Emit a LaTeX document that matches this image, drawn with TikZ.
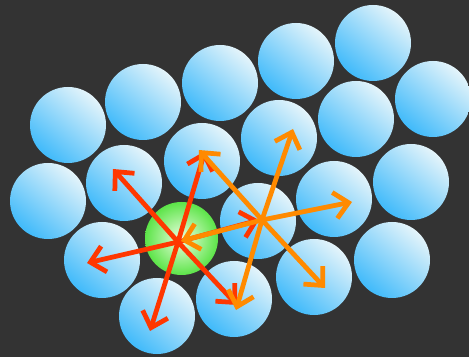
\documentclass[tikz,border=0pt]{standalone}
\usepackage{tikz}
\usetikzlibrary{arrows.meta}
\definecolor{bgdark}{RGB}{51,51,51}
\definecolor{balllight}{RGB}{228,244,250}
\definecolor{ballmid}{RGB}{198,233,250}
\definecolor{balldark}{RGB}{64,186,250}
\definecolor{greenlight}{RGB}{236,255,226}
\definecolor{greendark}{RGB}{92,228,72}
\definecolor{redarr}{RGB}{255,55,0}
\definecolor{orangearr}{RGB}{255,138,0}
\tikzset{
    % blue lattice balls
    ball/.style={
        top color=balllight,
        middle color=ballmid,
        bottom color=balldark,
        shading angle=-40
    },
    greenball/.style={
        inner color=greenlight,
        outer color=greendark
    },
    redarrow/.style={
        line width=2.7pt,
        redarr,
        line cap=round,
        -{Straight Barb[length=8pt, width=15pt]}
    },
    orangearrow/.style={
        line width=2.7pt,
        orangearr,
        line cap=round,
        -{Straight Barb[length=8pt, width=15pt]}
    }
}
\begin{document}
\begin{tikzpicture}[x=0.02cm,y=-0.02cm]
    % ===================== background =====================
    \fill[bgdark] (0,0) rectangle (469,357);
    \useasboundingbox (0,0) rectangle (469,357);

    % ===================== balls =====================
    \path
    (68,125) coordinate (b1)
    (143,102) coordinate (b2)
    (220,83) coordinate (b3)
    (296,61) coordinate (b4)
    (373,43) coordinate (b5)

    (48,201) coordinate (b6)
    (124,183) coordinate (b7)
    (202,161) coordinate (b8)
    (279,138) coordinate (b9)
    (356,119) coordinate (b10)
    (433,99) coordinate (b11)

    (102,260) coordinate (b12)
    (258,221) coordinate (b13)
    (334,199) coordinate (b14)
    (411,182) coordinate (b15)

    (157,316) coordinate (b16)
    (234,299) coordinate (b17)
    (314,277) coordinate (b18)
    (392,260) coordinate (b19)

    (181.5,238.5) coordinate (g);

    \foreach \b in {b1,b2,b3,b4,b5,b6,b7,b8,b9,b10,b11,b12,b13,b14,b15,b16,b17,b18,b19}
        \shade[ball] (\b) circle (38);
    \shade[greenball] (g) circle (36.5);

    % ===================== arrow ends =====================
    \path
    (178,242) coordinate (rc)
    (113,169) coordinate (r1)
    (205,151) coordinate (r2)
    (87,263) coordinate (r3)
    (150,331) coordinate (r4)
    (237,305) coordinate (r5)
    (259,220) coordinate (r6)

    (262,220) coordinate (oc)
    (199,150) coordinate (o1)
    (293,129) coordinate (o2)
    (352,202) coordinate (o3)
    (325,288) coordinate (o4)
    (236,310) coordinate (o5)
    (181,241) coordinate (o6);

    % red arrows from the green ball
    \foreach \e in {r1,r2,r3,r4,r5,r6}
        \draw[redarrow] (rc) -- (\e);

    % orange arrows from the blue ball
    \foreach \e in {o1,o2,o3,o4,o5,o6}
        \draw[orangearrow] (oc) -- (\e);
\end{tikzpicture}
\end{document}
